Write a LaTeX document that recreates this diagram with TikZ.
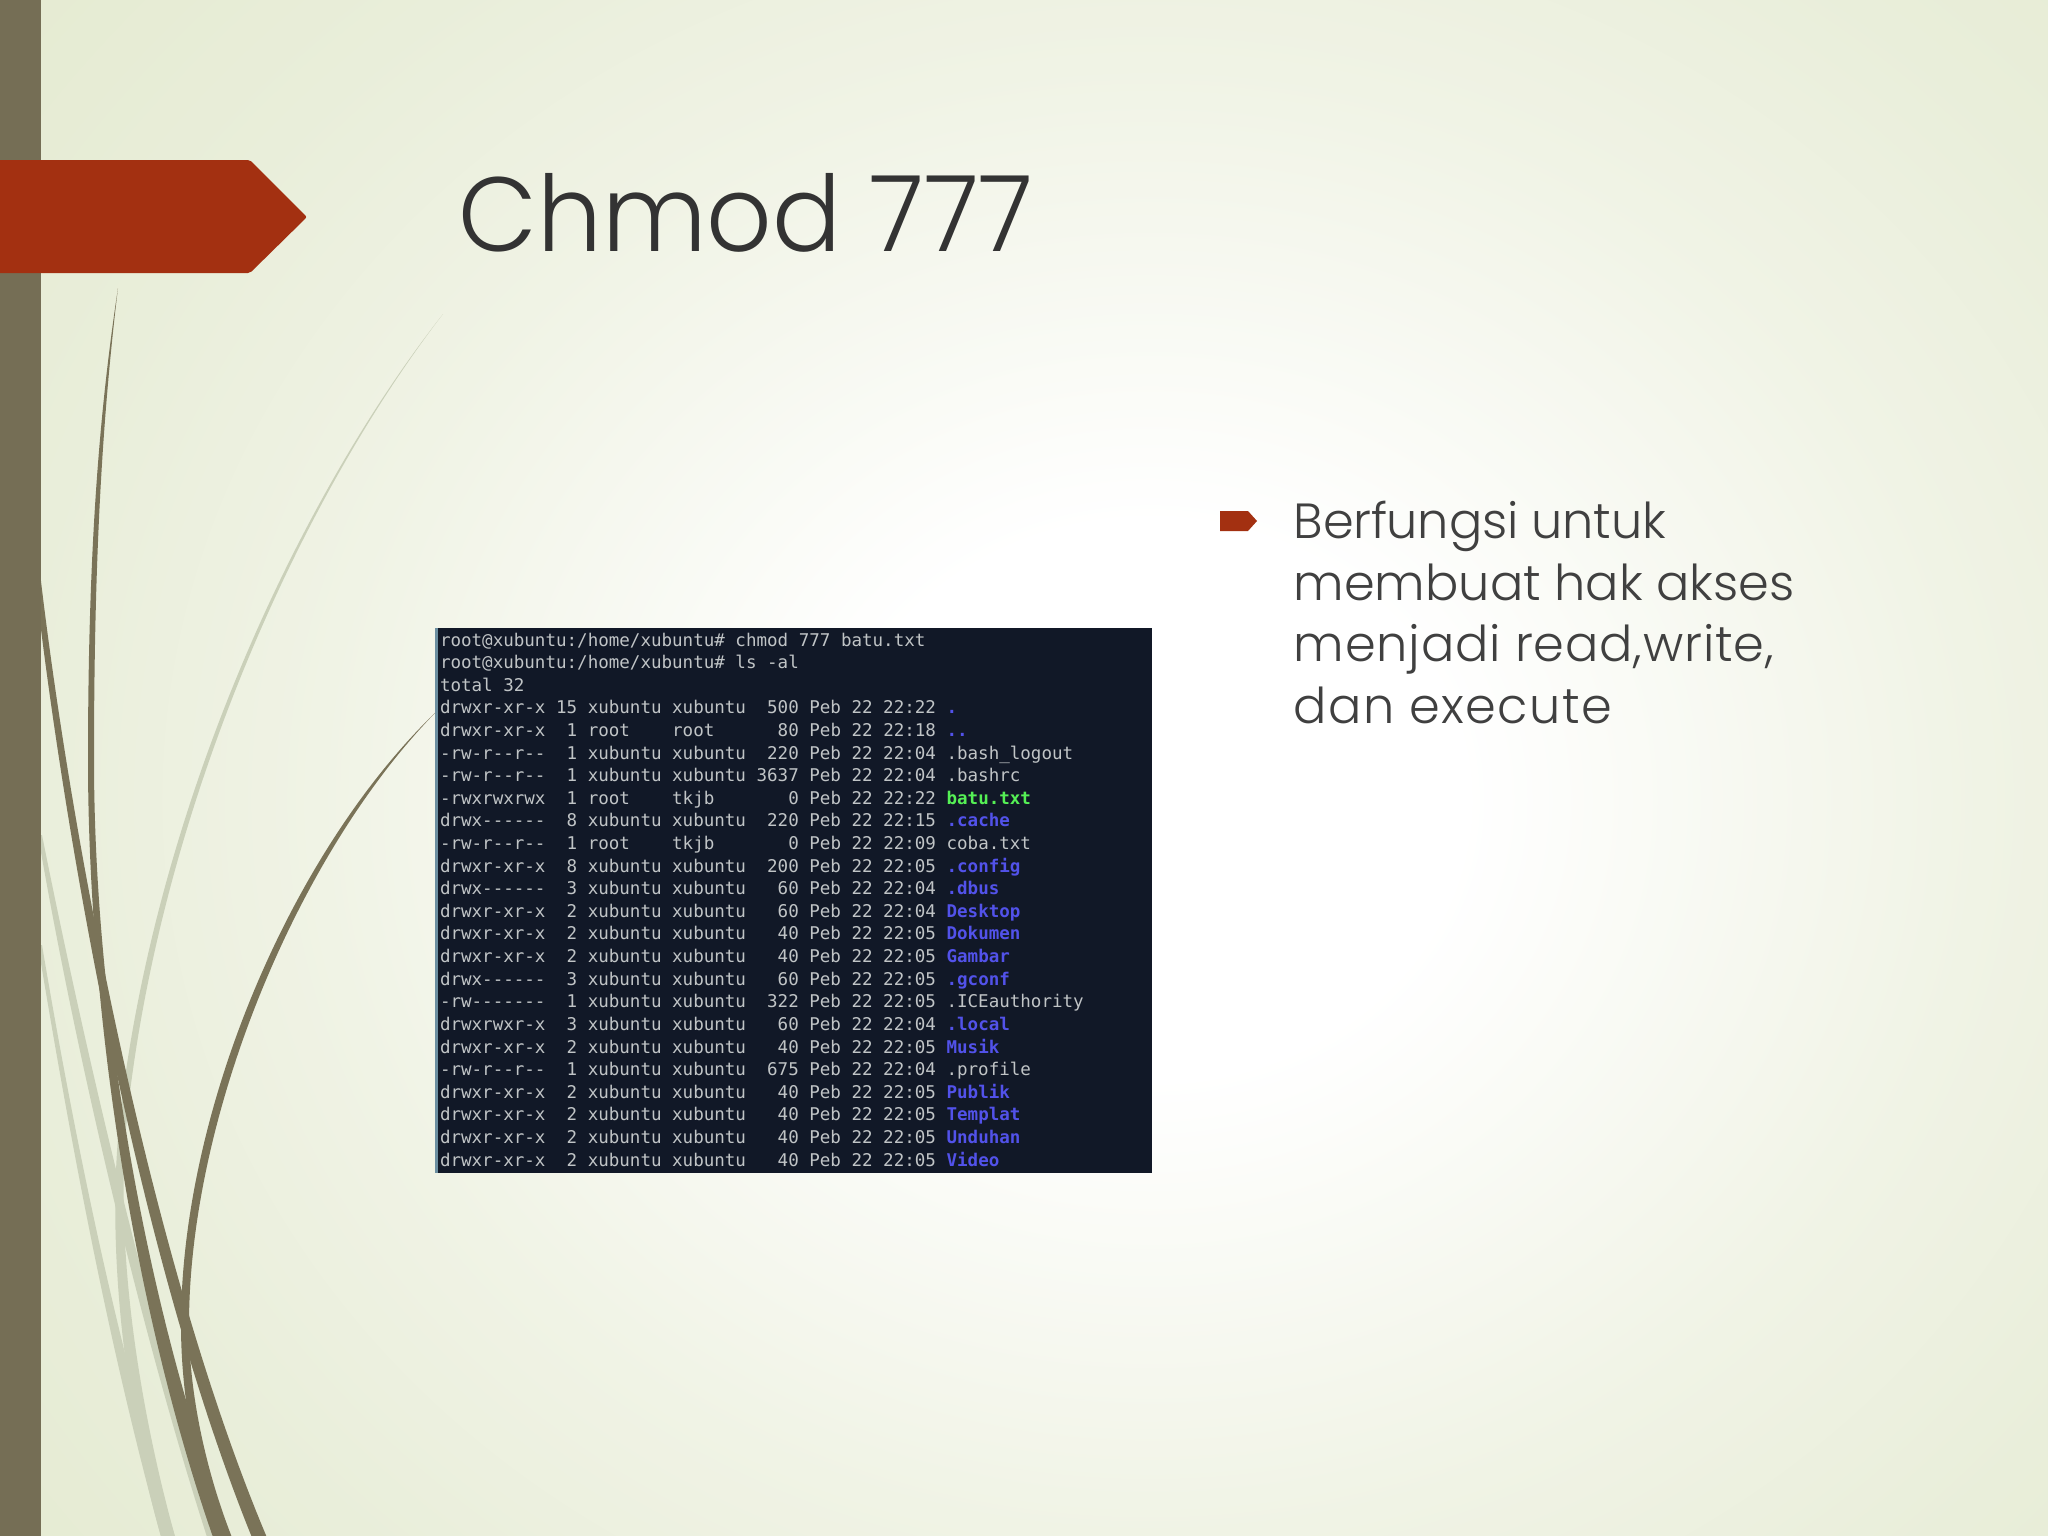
\documentclass[tikz,border=0pt]{standalone}
\usepackage{fontspec}
\usetikzlibrary{positioning}
\newfontfamily\slidefont{Poppins Light}
\newfontfamily\titlefont[FakeStretch=0.97]{Poppins Light}
\newfontfamily\termfont{DejaVu Sans Mono}
\definecolor{stemdark}{HTML}{7A7358}
\definecolor{stemlight}{HTML}{CAD0B9}
\definecolor{barcolor}{HTML}{756E55}
\definecolor{rustred}{HTML}{A33011}
\definecolor{termback}{HTML}{111827}
\definecolor{termedge}{HTML}{6B8EA0}
\definecolor{termtext}{HTML}{C0C4C6}
\definecolor{dirblue}{HTML}{5252EA}
\definecolor{exegreen}{HTML}{55F055}
\definecolor{slidetext}{HTML}{404040}
\definecolor{titletext}{HTML}{333333}
\definecolor{backone}{HTML}{F0F3E5}
\definecolor{backtwo}{HTML}{E9EEDA}
\definecolor{backthree}{HTML}{E4EACF}
\definecolor{backfour}{HTML}{E1E7C8}
\definecolor{backfive}{HTML}{DCE3BC}
\pgfdeclareradialshading{slideback}{\pgfpoint{0bp}{0bp}}{color(0bp)=(white); color(6bp)=(white); color(16bp)=(backone); color(22bp)=(backtwo); color(30bp)=(backthree); color(40bp)=(backfour); color(50bp)=(backfive)}
\newcommand{\bluename}[1]{\textcolor{dirblue}{\textbf{#1}}}
\newcommand{\greenname}[1]{\textcolor{exegreen}{\textbf{#1}}}
\begin{document}
\begin{tikzpicture}[x=0.01cm,y=-0.01cm,
                    rowline/.style={inner sep=0pt, outer sep=0pt, text=termtext, font=\termfont\fontsize{4.985pt}{6pt}\selectfont, text height=0.16cm, text depth=0.0660cm},
                    terminalbox/.style={rectangle, fill=termback, minimum width=7.17cm, minimum height=5.45cm, inner sep=0pt, outer sep=0pt},
                    stemthick/.style={fill=stemdark},
                    stemfaint/.style={fill=stemlight}
                ]
    \path[use as bounding box, clip] (0,0) rectangle (2048,1536);
    \shade[shading=slideback] (-150,-350) rectangle (2450,1950);

    % faint stems
    \path[stemfaint] (443,314) .. controls (298,498) and (160,800) .. (122,1100) .. controls (102,1250) and (130,1430) .. (162,1540)
        -- (176,1540) .. controls (145,1430) and (110,1250) .. (129,1100) .. controls (165,800) and (300,500) .. (443,314) -- cycle;
    \path[stemfaint] (38,835) .. controls (75,1050) and (140,1330) .. (208,1540)
        -- (220,1540) .. controls (150,1330) and (85,1050) .. (42,835) -- cycle;
    \path[stemfaint] (38,945) .. controls (80,1200) and (118,1380) .. (162,1540)
        -- (176,1540) .. controls (128,1380) and (85,1200) .. (42,945) -- cycle;

    % dark stems
    \path[stemthick] (118,288) .. controls (98,420) and (88,560) .. (88,760) .. controls (88,1000) and (130,1300) .. (214,1540)
        -- (232,1540) .. controls (142,1300) and (94,1000) .. (94,760) .. controls (94,560) and (102,420) .. (118,288) -- cycle;
    \path[stemthick] (38,555) .. controls (65,800) and (145,1250) .. (268,1540)
        -- (253,1540) .. controls (135,1250) and (65,830) .. (38,605) -- cycle;
    \path[stemthick] (436,712) .. controls (292,850) and (181,1110) .. (181,1325) .. controls (181,1400) and (197,1480) .. (220,1540)
        -- (233,1540) .. controls (209,1480) and (189,1400) .. (189,1325) .. controls (189,1115) and (298,853) .. (436,712) -- cycle;

    % side bar and title tag
    \fill[barcolor] (0,0) rectangle (41,1536);
    \fill[rustred, rounded corners=0.6pt] (-10,160) -- (250,160) -- (307,217) -- (250,273) -- (-10,273) -- cycle;

    \node[inner sep=0pt, anchor=base west, text=titletext, font=\titlefont\fontsize{30pt}{36pt}\selectfont] (title) at (458,251) {Chmod 777};

    % terminal
    \node[terminalbox, anchor=north west] (terminal) at (435,628) {};
    \draw[termedge, line width=0.8pt, transform canvas={xshift=0.4pt}] (terminal.north west) -- (terminal.south west);

    \node[rowline, anchor=base west] (row1) at (440,646) {root@xubuntu:/home/xubuntu\#~chmod~777~batu.txt};
    \node[rowline, below right=0cm of row1.south west] (row2) {root@xubuntu:/home/xubuntu\#~ls~-al};
    \node[rowline, below right=0cm of row2.south west] (row3) {total~32};
    \node[rowline, below right=0cm of row3.south west] (row4) {drwxr-xr-x~15~xubuntu~xubuntu~~500~Peb~22~22:22~\bluename{.}};
    \node[rowline, below right=0cm of row4.south west] (row5) {drwxr-xr-x~~1~root~~~~root~~~~~~80~Peb~22~22:18~\bluename{..}};
    \node[rowline, below right=0cm of row5.south west] (row6) {-rw-r--r--~~1~xubuntu~xubuntu~~220~Peb~22~22:04~.bash\_logout};
    \node[rowline, below right=0cm of row6.south west] (row7) {-rw-r--r--~~1~xubuntu~xubuntu~3637~Peb~22~22:04~.bashrc};
    \node[rowline, below right=0cm of row7.south west] (row8) {-rwxrwxrwx~~1~root~~~~tkjb~~~~~~~0~Peb~22~22:22~\greenname{batu.txt}};
    \node[rowline, below right=0cm of row8.south west] (row9) {drwx------~~8~xubuntu~xubuntu~~220~Peb~22~22:15~\bluename{.cache}};
    \node[rowline, below right=0cm of row9.south west] (row10) {-rw-r--r--~~1~root~~~~tkjb~~~~~~~0~Peb~22~22:09~coba.txt};
    \node[rowline, below right=0cm of row10.south west] (row11) {drwxr-xr-x~~8~xubuntu~xubuntu~~200~Peb~22~22:05~\bluename{.config}};
    \node[rowline, below right=0cm of row11.south west] (row12) {drwx------~~3~xubuntu~xubuntu~~~60~Peb~22~22:04~\bluename{.dbus}};
    \node[rowline, below right=0cm of row12.south west] (row13) {drwxr-xr-x~~2~xubuntu~xubuntu~~~60~Peb~22~22:04~\bluename{Desktop}};
    \node[rowline, below right=0cm of row13.south west] (row14) {drwxr-xr-x~~2~xubuntu~xubuntu~~~40~Peb~22~22:05~\bluename{Dokumen}};
    \node[rowline, below right=0cm of row14.south west] (row15) {drwxr-xr-x~~2~xubuntu~xubuntu~~~40~Peb~22~22:05~\bluename{Gambar}};
    \node[rowline, below right=0cm of row15.south west] (row16) {drwx------~~3~xubuntu~xubuntu~~~60~Peb~22~22:05~\bluename{.gconf}};
    \node[rowline, below right=0cm of row16.south west] (row17) {-rw-------~~1~xubuntu~xubuntu~~322~Peb~22~22:05~.ICEauthority};
    \node[rowline, below right=0cm of row17.south west] (row18) {drwxrwxr-x~~3~xubuntu~xubuntu~~~60~Peb~22~22:04~\bluename{.local}};
    \node[rowline, below right=0cm of row18.south west] (row19) {drwxr-xr-x~~2~xubuntu~xubuntu~~~40~Peb~22~22:05~\bluename{Musik}};
    \node[rowline, below right=0cm of row19.south west] (row20) {-rw-r--r--~~1~xubuntu~xubuntu~~675~Peb~22~22:04~.profile};
    \node[rowline, below right=0cm of row20.south west] (row21) {drwxr-xr-x~~2~xubuntu~xubuntu~~~40~Peb~22~22:05~\bluename{Publik}};
    \node[rowline, below right=0cm of row21.south west] (row22) {drwxr-xr-x~~2~xubuntu~xubuntu~~~40~Peb~22~22:05~\bluename{Templat}};
    \node[rowline, below right=0cm of row22.south west] (row23) {drwxr-xr-x~~2~xubuntu~xubuntu~~~40~Peb~22~22:05~\bluename{Unduhan}};
    \node[rowline, below right=0cm of row23.south west] (row24) {drwxr-xr-x~~2~xubuntu~xubuntu~~~40~Peb~22~22:05~\bluename{Video}};

    % bullet and body text
    \fill[rustred] (1220,511) -- (1248,511) -- (1257,521) -- (1248,531) -- (1220,531) -- cycle;
    \node[inner sep=0pt, anchor=north west, align=left, text=slidetext, font=\slidefont\fontsize{14.05pt}{17.6pt}\selectfont] (body) at (1293,500) {{\addfontfeature{LetterSpace=-0.5}Berfungsi untuk}\\membuat hak akses\\{\addfontfeature{LetterSpace=1.7}menjadi read,write,}\\{\addfontfeature{LetterSpace=2.8}dan execute}};
\end{tikzpicture}
\end{document}
